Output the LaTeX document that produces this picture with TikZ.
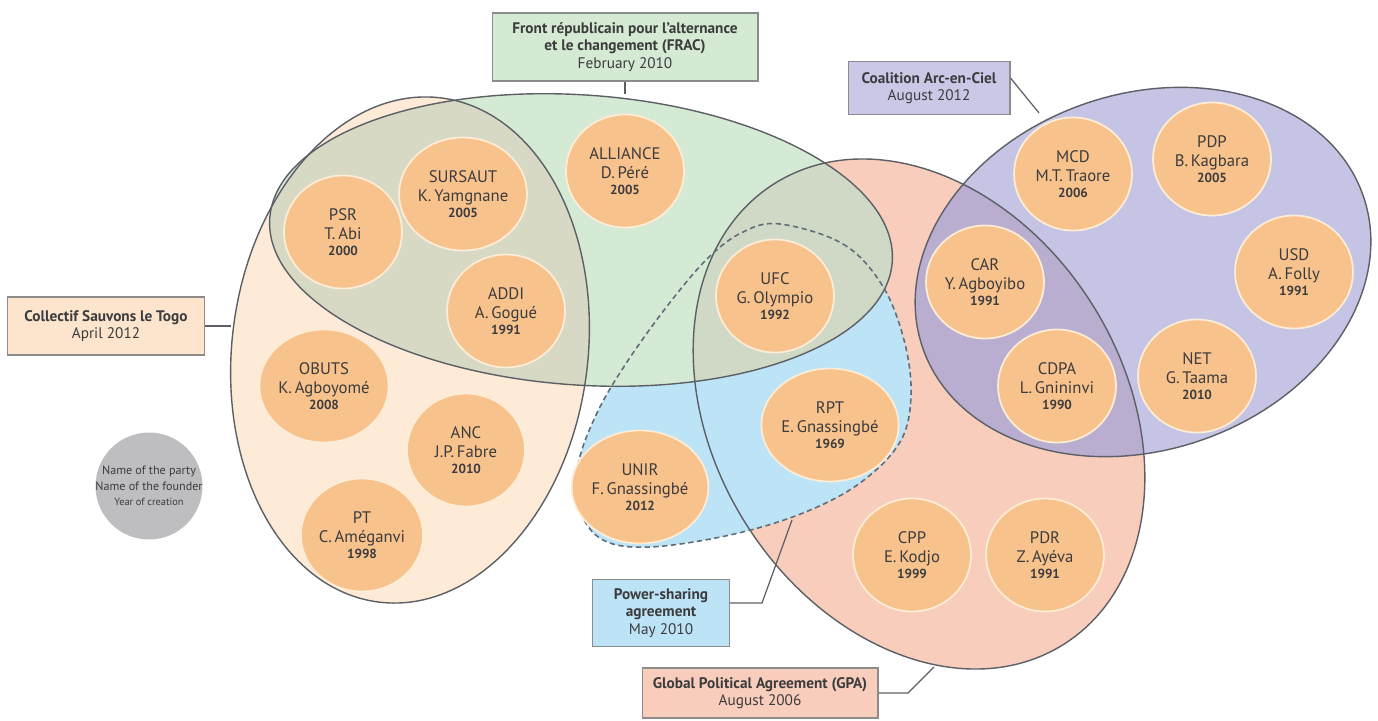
\documentclass[tikz,border=0pt]{standalone}
\usepackage{fontspec}
\setmainfont{PT Sans}
\usetikzlibrary{shapes.geometric}
\definecolor{cstfill}{RGB}{253,234,215}
\definecolor{fracfill}{RGB}{213,234,212}
\definecolor{gpafill}{RGB}{249,205,188}
\definecolor{coalfill}{RGB}{198,196,228}
\definecolor{psfill}{RGB}{189,227,246}
\definecolor{cstfrac}{RGB}{215,217,197}
\definecolor{fracgpa}{RGB}{207,217,197}
\definecolor{gpacoal}{RGB}{185,174,208}
\definecolor{partyfill}{RGB}{248,194,140}
\definecolor{partyrim}{RGB}{253,236,214}
\definecolor{legendfill}{RGB}{190,190,193}
\definecolor{edgegrey}{RGB}{92,96,102}
\definecolor{dashgrey}{RGB}{95,108,122}
\definecolor{inkgrey}{RGB}{60,60,62}
\definecolor{tagrim}{RGB}{140,140,140}
\definecolor{fractagfill}{RGB}{212,234,210}
\definecolor{coaltagfill}{RGB}{202,200,230}
\definecolor{csttagfill}{RGB}{252,228,205}
\definecolor{pstagfill}{RGB}{189,227,246}
\definecolor{gpatagfill}{RGB}{248,205,187}

\newcommand{\founded}[1]{{\fontsize{7.5}{9}\selectfont\bfseries #1}}
% outlines of the agreements (pixel units)
\newcommand{\cstoval}{(0,0) ellipse [x radius=178, y radius=254]}
\newcommand{\fracoval}{(0,0) ellipse [x radius=312, y radius=145]}
\newcommand{\gpaoval}{(0,0) ellipse [x radius=272, y radius=205]}
\newcommand{\coaloval}{(0,0) ellipse [x radius=233, y radius=178]}
\newcommand{\psblob}{plot[smooth cycle, tension=0.6] coordinates {(780,224) (843,244) (882,285) (904,340) (911,395) (900,442) (860,483) (803,513) (730,535) (650,547) (603,540) (580,510) (578,465) (597,413) (627,362) (668,305) (708,258) (743,232)}}

\begin{document}
\begin{tikzpicture}[x=0.02cm, y=-0.02cm,
    cstarea/.style={shift={(410,350)}, rotate=-7},
    fracarea/.style={shift={(581,240)}, rotate=-4},
    gpaarea/.style={shift={(919,414)}, rotate=-58},
    coalarea/.style={shift={(1143,272)}, rotate=19},
    outline/.style={draw=edgegrey, line width=0.8pt},
    party/.style={ellipse, fill=partyfill, draw=partyrim, line width=1pt, minimum width=2.36cm, minimum height=2.26cm, inner sep=0pt, align=center, text=inkgrey, font=\fontsize{9.5}{10.8}\selectfont},
    tag/.style={draw=tagrim, line width=0.6pt, align=center, text=inkgrey, inner sep=2pt, font=\fontsize{8.7}{10}\selectfont},
    link/.style={draw=edgegrey, line width=0.7pt}
  ]
  \useasboundingbox (0,0) rectangle (1378,720);

  % areas
  \fill[cstfill, cstarea] \cstoval;
  \fill[gpafill, gpaarea] \gpaoval;
  \fill[coalfill, coalarea] \coaloval;
  \begin{scope}
    \clip[gpaarea] \gpaoval;
    \fill[gpacoal, coalarea] \coaloval;
  \end{scope}
  \fill[psfill] \psblob;
  \fill[fracfill, fracarea] \fracoval;
  \begin{scope}
    \clip[cstarea] \cstoval;
    \fill[cstfrac, fracarea] \fracoval;
  \end{scope}
  \begin{scope}
    \clip[gpaarea] \gpaoval;
    \fill[fracgpa, fracarea] \fracoval;
  \end{scope}

  % borders
  \draw[outline, cstarea] \cstoval;
  \draw[outline, fracarea] \fracoval;
  \draw[outline, gpaarea] \gpaoval;
  \draw[outline, coalarea] \coaloval;
  \draw[dashgrey, line width=0.9pt, dash pattern=on 3pt off 2pt] \psblob;

  % parties
  \node[party] (alliance) at (625,171) {ALLIANCE\\D.\,Péré\\[-2pt]\founded{2005}};
  \node[party] (sursaut)  at (463,194) {SURSAUT\\K.\,Yamgnane\\[-2pt]\founded{2005}};
  \node[party] (psr)      at (343,232) {PSR\\T.\,Abi\\[-2pt]\founded{2000}};
  \node[party] (addi)     at (506,311) {ADDI\\A.\,Gogué\\[-2pt]\founded{1991}};
  \node[party] (obuts)    at (324,386) {OBUTS\\K.\,Agboyomé\\[-2pt]\founded{2008}};
  \node[party] (anc)      at (466,450) {ANC\\J.P.\,Fabre\\[-2pt]\founded{2010}};
  \node[party] (pt)       at (362,535) {PT\\C.\,Améganvi\\[-2pt]\founded{1998}};
  \node[party] (ufc)      at (775,296) {UFC\\G.\,Olympio\\[-2pt]\founded{1992}};
  \node[party] (rpt)      at (830,425) {RPT\\E.\,Gnassingbé\\[-2pt]\founded{1969}};
  \node[party] (unir)     at (640,487) {UNIR\\F.\,Gnassingbé\\[-2pt]\founded{2012}};
  \node[party] (cpp)      at (912,555) {CPP\\E.\,Kodjo\\[-2pt]\founded{1999}};
  \node[party] (pdr)      at (1045,555) {PDR\\Z.\,Ayéva\\[-2pt]\founded{1991}};
  \node[party] (car)      at (985,282) {CAR\\Y.\,Agboyibo\\[-2pt]\founded{1991}};
  \node[party] (cdpa)     at (1057,386) {CDPA\\L.\,Gnininvi\\[-2pt]\founded{1990}};
  \node[party] (mcd)      at (1073,174) {MCD\\M.T.\,Traore\\[-2pt]\founded{2006}};
  \node[party] (pdp)      at (1212,159) {PDP\\B.\,Kagbara\\[-2pt]\founded{2005}};
  \node[party] (usd)      at (1294,272) {USD\\A.\,Folly\\[-2pt]\founded{1991}};
  \node[party] (net)      at (1197,376) {NET\\G.\,Taama\\[-2pt]\founded{2010}};

  % legend
  \node[circle, fill=legendfill, minimum size=2.14cm, inner sep=-0.45cm, align=center, text=inkgrey, font=\fontsize{6.9}{8.8}\selectfont] (legend) at (149,486) {Name of the party\\Name of the founder\\{\fontsize{5.9}{7}\selectfont Year of creation}};

  % agreement tags
  \node[tag, fill=fractagfill, minimum width=5.32cm, minimum height=1.36cm] (fractag) at (625,47) {\textbf{Front républicain pour l'alternance}\\\textbf{et le changement (FRAC)}\\February 2010};
  \node[tag, fill=coaltagfill, minimum width=3.24cm, minimum height=1.06cm] (coaltag) at (929,88) {\textbf{Coalition Arc-en-Ciel}\\August 2012};
  \node[tag, fill=csttagfill, minimum width=3.94cm, minimum height=1.16cm] (csttag) at (106,326) {\textbf{Collectif Sauvons le Togo}\\April 2012};
  \node[tag, fill=pstagfill, minimum width=2.74cm, minimum height=1.34cm] (pstag) at (661,613) {\textbf{Power-sharing}\\\textbf{agreement}\\May 2010};
  \node[tag, fill=gpatagfill, minimum width=4.72cm, minimum height=1.0cm] (gpatag) at (760,693) {\textbf{Global Political Agreement (GPA)}\\August 2006};

  % leader lines
  \coordinate (fracend) at (625,94);
  \coordinate (coalend) at (1039,113);
  \coordinate (cstend)  at (231,326);
  \coordinate (psbend)  at (762,603);
  \coordinate (psend)   at (792,520);
  \coordinate (gpabend) at (908,693);
  \coordinate (gpaend)  at (934,667);
  \draw[link] (fractag) -- (fracend);
  \draw[link] ([yshift=0.2cm]coaltag.east) -- (coalend);
  \draw[link] (csttag.east) -- (cstend);
  \draw[link] ([yshift=0.2cm]pstag.east) -- (psbend) -- (psend);
  \draw[link] (gpatag.east) -- (gpabend) -- (gpaend);
\end{tikzpicture}
\end{document}
